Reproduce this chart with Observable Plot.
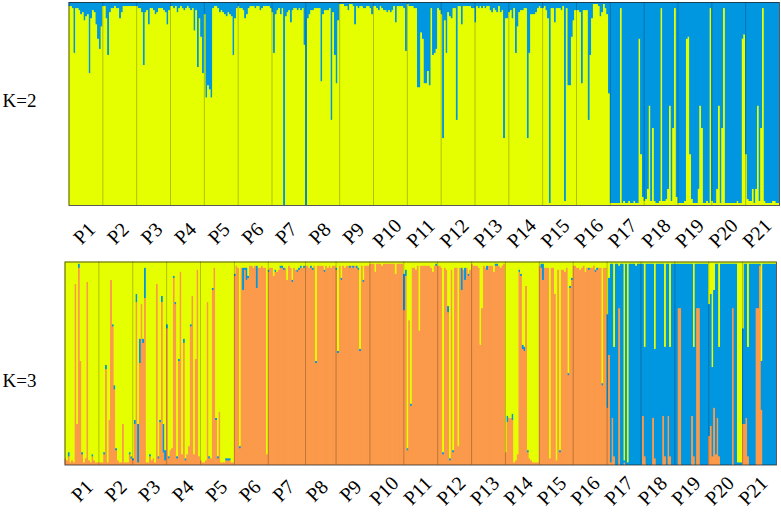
<!DOCTYPE html>
<html><head><meta charset="utf-8">
<script src="https://cdn.jsdelivr.net/npm/d3@7"></script>
<script src="https://cdn.jsdelivr.net/npm/@observablehq/plot@0.6"></script>
<style>html,body{margin:0;padding:0;background:#fff}svg{display:block}</style>
</head><body><div id="c"></div>
<script>
const popLabels=["P1","P2","P3","P4","P5","P6","P7","P8","P9","P10","P11","P12","P13","P14","P15","P16","P17","P18","P19","P20","P21"];
// K=2: blue share per individual, by population
const k2Blue=[
[2,2,3,25,3,3,4,6,5,9,7,6,35,8,4,5,11,18,23,12],
[2,2,8,26,5,3,3,2,3,3,8,5,2,2,2,2,2,2,2,2],
[2,3,3,5,31,5,4,11,3,3,4,6,5,3,3,3,4,5,11,4],
[2,2,3,2,5,3,2,3,4,3,2,3,4,3,14,4,32,8,17,35],
[6,47,41,43,47,3,2,2,3,5,4,5,6,7,5,6,7,26,8,3],
[2,3,3,4,8,6,3,2,2,2,3,2,2,4,3,2,2,2,2,3],
[5,25,6,4,3,6,3,100,7,5,4,10,4,3,3,4,3,4,3,21],
[100,8,6,4,4,3,3,3,3,39,6,4,4,4,3,58,5,26,40,9],
[1,1,1,2,2,4,1,1,2,11,2,3,2,2,3,3,2,2,3,6],
[2,2,3,4,2,3,4,4,5,4,5,4,2,10,2,2,2,2,3,24],
[1,2,2,2,3,3,42,42,15,18,40,40,34,41,3,26,25,23,3,4],
[6,67,9,25,5,7,8,3,3,58,2,2,11,2,2,2,2,2,3,3],
[10,2,3,2,3,2,3,2,2,4,5,3,4,5,2,5,4,67,8,8],
[5,4,8,3,25,12,5,4,4,3,3,67,25,6,6,6,5,3,2,3],
[3,2,4,8,99,3,3,10,3,3,3,4,2,98,3,41,41,17,9,4],
[4,4,5,40,4,4,4,58,26,8,1,1,1,2,7,5,1,3,6,45],
[99,99,99,99,99,99,3,99,98,99,99,98,99,99,98,99,99,18,75,96],
[98,97,92,51,98,62,98,99,99,98,3,98,98,97,92,51,98,62,3,96],
[99,99,99,99,98,18,17,75,97,99,99,99,92,51,62,99,99,98,99,3],
[98,99,99,92,51,99,62,3,99,99,99,99,99,99,99,98,99,99,18,16],
[75,97,98,98,92,99,92,51,98,62,3,98,99,99,99,99,98,98,99,99]];
// K=3: orange (bottom) share per individual, by population
const k3Orange=[
[3,2,4,1,2,1,89,20,97,51,5,1,3,90,2,1,4,2,1,1],
[1,1,1,5,47,1,22,91,68,37,7,2,1,1,20,1,1,1,5,3],
[2,20,80,1,50,79,60,82,1,1,4,2,3,1,89,3,21,80,6,2],
[67,3,7,8,92,79,3,51,95,5,60,2,5,9,68,83,5,52,96,4],
[2,1,1,2,80,3,3,86,97,22,3,26,1,1,1,2,2,2,1,1],
[93,98,97,8,97,86,96,91,92,98,98,97,98,87,97,97,98,97,97,5],
[95,97,97,93,95,95,96,97,97,96,97,91,98,97,90,97,96,95,96,97,97,97],
[98,98,97,97,96,98,50,98,98,98,98,95,98,97,98,97,98,98],
[96,55,98,91,98,97,98,98,97,98,97,98,97,96,56,98,90,98,98,98],
[99,99,99,95,99,99,99,98,99,99,99,99,99,99,99,94,99,99,99,99],
[76,93,7,71,29,97,97,96,98,66,98,98,98,98,98,98,97,95,98,98],
[98,98,97,5,97,96,75,2,96,6,97,97,9,97,86,96,91,97,93,96],
[99,98,98,98,97,59,77,98,97,96,98,98,98,95,98,98,98,97,98,99],
[6,21,23,23,22,1,2,5,95,93,57,56,88,6,3,2,1,1,1,1],
[98,97,91,97,97,97,3,97,97,84,2,96,6,96,96,95,97,44,87,91],
[98,98,97,97,96,97,98,95,97,96,97,97,98,95,96,97,97,39,97,97],
[28,54,1,23,4,0,0,77,0,0,1,0,0,0,0,0,0,0,0,0],
[0,24,4,0,0,0,0,23,3,0,0,0,0,24,4,0,24,4,0,0],
[0,0,77,77,0,0,0,0,0,0,24,4,0,77,77,0,0,0,0,0],
[14,19,4,28,5,23,4,0,0,0,0,0,0,0,77,0,0,0,0,0],
[20,20,23,4,0,0,0,0,77,77,98,27,0,0,0,0,0,0,0,0]];
// K=3: blue (middle) share per individual, by population
const k3Blue=[
[0,0,2,0,0,0,0,0,2,0,1,0,0,0,0,0,1,0,0,0],
[0,0,0,1,2,0,0,0,1,2,1,0,0,0,0,0,0,0,1,1],
[1,2,4,19,12,0,2,15,0,0,1,0,0,0,0,1,1,3,14,5],
[2,1,0,0,1,1,1,1,0,0,2,1,0,0,1,0,0,0,0,0],
[0,0,0,0,0,1,0,1,0,1,1,0,0,0,0,1,1,1,0,0],
[1,0,0,1,0,11,1,6,1,0,0,0,0,11,0,0,0,0,0,0],
[1,0,0,0,1,0,0,1,1,1,0,0,0,0,1,0,0,1,1,1,0,1],
[0,0,0,1,1,0,1,0,0,0,0,1,0,0,0,0,0,0],
[1,1,0,1,0,0,0,0,1,0,1,0,1,1,1,0,1,0,0,0],
[0,0,0,0,0,0,0,0,0,0,0,0,0,0,0,0,0,0,0,0],
[18,3,1,0,1,0,0,0,0,0,0,0,0,0,0,0,0,0,0,1],
[0,0,0,1,0,0,3,1,0,1,0,0,0,0,11,0,6,0,1,0],
[0,0,0,0,0,0,0,0,0,2,0,0,0,0,1,1,0,0,0,0],
[0,3,0,0,3,0,0,0,1,1,2,2,0,1,0,0,0,0,0,0],
[0,2,8,0,0,0,0,0,0,0,0,0,1,0,0,0,0,1,1,1],
[0,0,0,0,0,0,0,0,0,1,0,0,0,1,1,0,0,1,0,0],
[46,38,98,76,54,99,99,21,99,99,1,99,1,99,99,99,99,98,99,99],
[99,75,54,99,99,99,99,76,54,99,99,99,99,75,54,99,75,54,99,99],
[99,99,22,22,99,99,99,99,99,99,75,54,99,22,22,99,99,99,99,99],
[65,65,44,58,94,76,54,99,99,99,99,99,99,99,22,99,99,1,1,1],
[47,79,76,54,99,99,99,99,22,22,1,24,99,99,99,99,99,99,99,99]];

const YELLOW="#e5ff00",BLUE="#0097e0",ORANGE="#fb9a4b";
const FONT="'Liberation Serif','Times New Roman',serif";

function panel(orange,blue,o){
  const rows=[],seps=[];let n=0;
  blue.forEach((pop,p)=>{
    pop.forEach((b,i)=>{
      // K=2: yellow below blue. K=3: orange, then blue, then yellow on top.
      const seg=orange
        ?[[0,orange[p][i],ORANGE],[orange[p][i],orange[p][i]+b,BLUE],[orange[p][i]+b,100,YELLOW]]
        :[[0,100-b,YELLOW],[100-b,100,BLUE]];
      seg.forEach(([y1,y2,c])=>{if(y2>y1)rows.push({x1:n,x2:n+1,y1,y2,c});});
      n++;
    });
    if(p<blue.length-1)seps.push(n);
  });
  const labelX=popLabels.map((_,i)=>o.lstart+i*o.lstep);
  const layer=extra=>Plot.rect(rows,{x1:"x1",x2:"x2",y1:"y1",y2:"y2",fill:d=>d.c,...extra});
  return Plot.plot({
    width:781,height:o.height,
    marginLeft:o.left,marginRight:781-o.right,marginTop:o.top,marginBottom:o.bottom,
    style:{background:"transparent",fontFamily:FONT},
    x:{domain:[0,n],axis:null},
    y:{domain:[0,100],axis:null},
    color:{type:"identity"},
    marks:[
      layer({shapeRendering:"crispEdges"}),
      layer({}),
      Plot.ruleX(seps,{y1:0,y2:100,stroke:"#000",strokeOpacity:.3,strokeWidth:.8}),
      Plot.frame({stroke:"#222",strokeOpacity:.75,strokeWidth:1}),
      Plot.text(labelX,{x:d=>d,frameAnchor:"bottom",dy:o.ly,text:(d,i)=>popLabels[i],rotate:-45,textAnchor:"middle",lineAnchor:"middle",fontSize:20,fill:"#000",fontFamily:FONT}),
      Plot.text([o.name],{frameAnchor:"left",dx:-o.left+2,dy:o.dy,textAnchor:"start",fontSize:19,fill:"#000",fontFamily:FONT})
    ]
  });
}
const c=document.getElementById("c");
c.append(panel(null,k2Blue,{height:256,left:68.5,right:779,top:2,bottom:51,lstart:9.2,lstep:19.88,ly:28,name:"K=2",dy:-3}));
c.append(panel(k3Orange,k3Blue,{height:256,left:64.5,right:776,top:5.5,bottom:47.5,lstart:10.3,lstep:19.8,ly:26,name:"K=3",dy:17}));
</script></body></html>
